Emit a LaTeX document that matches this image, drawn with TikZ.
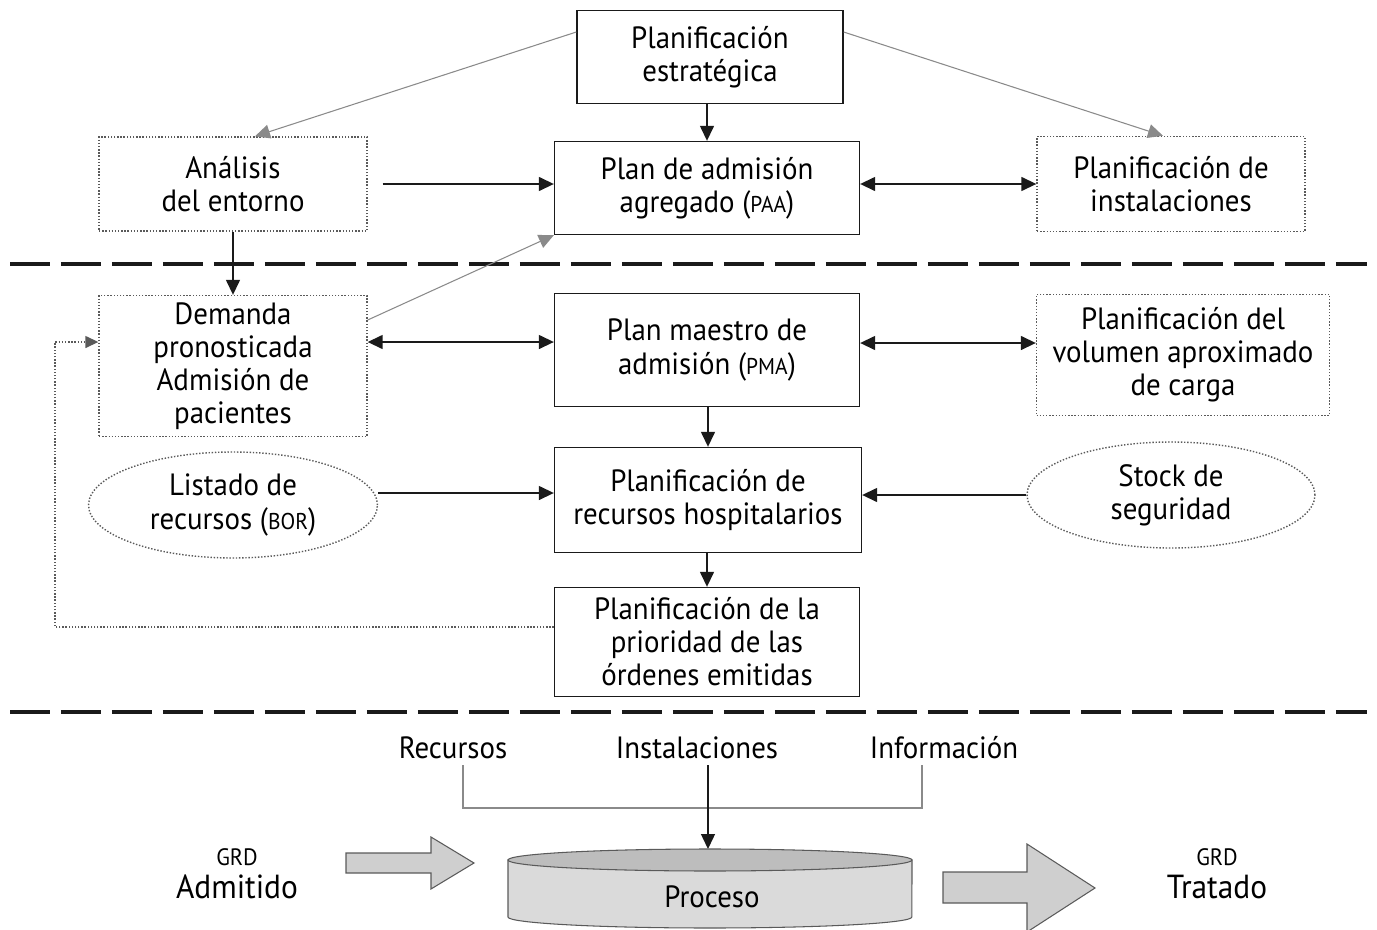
\documentclass[tikz,border=0pt]{standalone}
\usepackage{fontspec}
\setmainfont[FakeStretch=0.94]{PT Sans}
\usepackage{xcolor}
\usetikzlibrary{arrows.meta,shapes.geometric}
\definecolor{hblack}{HTML}{1a1a1a}
\definecolor{hgray}{HTML}{5a5a5a}
\definecolor{hline}{HTML}{8a8a8a}
\definecolor{hfill}{HTML}{cfcfcf}
\definecolor{hbody}{HTML}{dadada}
\definecolor{htop}{HTML}{bdbdbd}
\newcommand{\sigla}[1]{{\fontsize{13}{13}\selectfont #1}}
\tikzset{
	caja/.style = {draw = hblack, line width = 0.8pt, align = center, inner sep = 0pt},
	cajapunt/.style = {draw = hgray, densely dotted, line width = 0.8pt, align = center, inner sep = 0pt},
	elipse/.style = {ellipse, draw = hgray, densely dotted, line width = 0.8pt, align = center, inner sep = 0pt},
	flecha/.style = {draw = hblack, line width = 0.8pt, -{Triangle[length = 0.3cm, width = 0.28cm]}},
	dobleflecha/.style = {draw = hblack, line width = 0.8pt, {Triangle[length = 0.3cm, width = 0.28cm]}-{Triangle[length = 0.3cm, width = 0.28cm]}},
	fina/.style = {draw = hline, line width = 0.6pt, -{Triangle[length = 0.3cm, width = 0.28cm]}},
	separador/.style = {draw = hblack, line width = 1.8pt, dash pattern = on 0.8cm off 0.22cm},
	bloque/.style = {draw = hgray, line width = 0.6pt, fill = hfill}
}

\begin{document}
\begin{tikzpicture}[x = 0.02cm, y = -0.02cm, font = \fontsize{17.5}{18.8}\selectfont]
		\useasboundingbox (0,0) rectangle (1377,930);
		\node[caja, minimum width = 5.32cm, minimum height = 1.86cm] (estrat) at (710,57) {Planificación\\estratégica};
		\node[cajapunt, minimum width = 5.36cm, minimum height = 1.88cm] (analisis) at (233,184) {Análisis\\del entorno};
		\node[caja, minimum width = 6.1cm, minimum height = 1.86cm] (paa) at (707,188) {Plan de admisión\\agregado (\sigla{PAA})};
		\node[cajapunt, minimum width = 5.36cm, minimum height = 1.9cm] (instal) at (1171,184) {Planificación de\\instalaciones};
		\node[cajapunt, minimum width = 5.36cm, minimum height = 2.82cm] (demanda) at (233,366) {Demanda\\pronosticada\\Admisión de\\pacientes};
		\node[caja, minimum width = 6.1cm, minimum height = 2.26cm] (pma) at (707,350) {Plan maestro de\\admisión (\sigla{PMA})};
		\node[cajapunt, minimum width = 5.86cm, minimum height = 2.42cm] (volumen) at (1183,355) {Planificación del\\volumen aproximado\\de carga};
		\node[elipse, minimum width = 5.78cm, minimum height = 2.12cm] (listado) at (233,505) {Listado de\\recursos (\sigla{BOR})};
		\node[caja, minimum width = 6.14cm, minimum height = 2.1cm] (rechosp) at (708,500) {Planificación de\\recursos hospitalarios};
		\node[elipse, minimum width = 5.76cm, minimum height = 2.12cm] (stock) at (1171,495) {Stock de\\seguridad};
		\node[caja, minimum width = 6.1cm, minimum height = 2.18cm] (prioridad) at (707,642) {Planificación de la\\prioridad de las\\órdenes emitidas};
		\draw[separador] (10,264) -- (1367,264);
		\draw[separador] (10,712) -- (1367,712);
		\draw[fina] ([yshift = 0.5cm]estrat.west) -- ([xshift = 0.44cm]analisis.north);
		\draw[fina] ([yshift = 0.5cm]estrat.east) -- ([xshift = -0.16cm]instal.north);
		\draw[flecha] (estrat.south -| paa.north) -- (paa.north);
		\draw[flecha, shorten <= 0.3cm] (analisis.east) -- (analisis.east -| paa.west);
		\draw[dobleflecha] (instal.west -| paa.east) -- (instal.west);
		\draw[flecha] (analisis.south) -- (demanda.north);
		\draw[fina] ([yshift = 0.92cm]demanda.east) -- (paa.south west);
		\draw[dobleflecha] ([yshift = 0.48cm]demanda.east) -- ([yshift = 0.48cm]demanda.east -| pma.west);
		\draw[dobleflecha] ([yshift = 0.14cm]pma.east) -- ([yshift = 0.14cm]pma.east -| volumen.west);
		\draw[flecha] (pma.south -| rechosp.north) -- (rechosp.north);
		\draw[flecha] ([yshift = 0.24cm]listado.east) -- ([yshift = 0.24cm]listado.east -| rechosp.west);
		\draw[flecha] (stock.west) -- (stock.west -| rechosp.east);
		\draw[flecha] (rechosp.south -| prioridad.north) -- (prioridad.north);
		\coordinate (lazo) at (55,0);
		\draw[draw = hgray, densely dotted, line width = 0.8pt, -{Triangle[length = 0.26cm, width = 0.24cm]}] ([yshift = 0.3cm]prioridad.west) -- ([yshift = 0.3cm]prioridad.west -| lazo) -- ([yshift = 0.48cm]demanda.west -| lazo) -- ([yshift = 0.48cm]demanda.west);
		\node (recursos) at (453,748) {Recursos};
		\node (instalac) at (697,748) {Instalaciones};
		\node (informac) at (944,748) {Información};
		\coordinate (barra) at (0,808);
		\coordinate (cyltop) at (708,849);
		\draw[draw = hline, line width = 0.8pt] ([xshift = 0.2cm]recursos.south) -- ([xshift = 0.2cm]recursos.south |- barra) -- ([xshift = -0.44cm]informac.south |- barra) -- ([xshift = -0.44cm]informac.south);
		\draw[flecha] (instalac.south -| cyltop) -- (cyltop);
		\draw[draw = hgray, line width = 0.6pt, fill = hbody] (508,860) -- (508,917) arc[start angle = 180, end angle = 360, x radius = 4.04cm, y radius = 0.22cm] -- (912,860) -- cycle;
		\draw[draw = hgray, line width = 0.6pt, fill = htop] (710,860) ellipse [x radius = 4.04cm, y radius = 0.22cm];
		\node (proceso) at (712,897) {Proceso};
		\draw[bloque] (346,853) -- (431,853) -- (431,837) -- (474,863) -- (431,889) -- (431,873) -- (346,873) -- cycle;
		\draw[bloque] (943,872) -- (1027,872) -- (1027,844) -- (1095,888) -- (1027,932) -- (1027,903) -- (943,903) -- cycle;
		\node[align = center] (admitido) at (237,874) {{\fontsize{13.5}{13.5}\selectfont GRD}\\{\fontsize{19}{19}\selectfont Admitido}};
		\node[align = center] (tratado) at (1217,874) {{\fontsize{13.5}{13.5}\selectfont GRD}\\{\fontsize{19}{19}\selectfont Tratado}};
	\end{tikzpicture}
\end{document}
